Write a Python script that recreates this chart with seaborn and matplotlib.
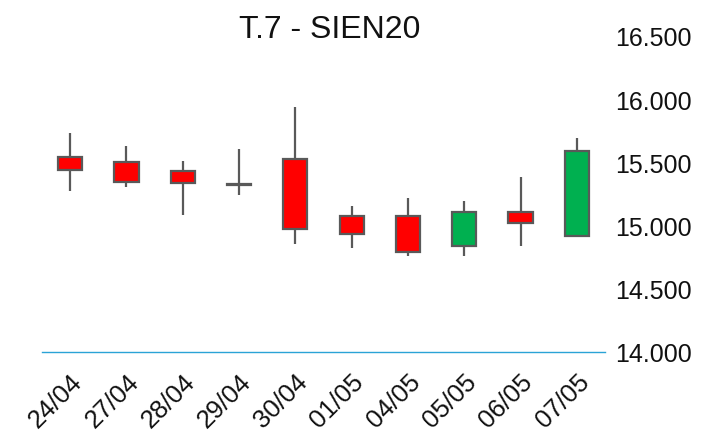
import matplotlib
matplotlib.use("Agg")
import matplotlib.pyplot as plt
import seaborn as sns
import pandas as pd
import numpy as np
from matplotlib.ticker import FuncFormatter

dates = ["24/04", "27/04", "28/04", "29/04", "30/04", "01/05", "04/05", "05/05", "06/05", "07/05"]
opens = [15540, 15500, 15430, 15330, 15527, 15074, 15074, 14836, 15110, 14920]
highs = [15733, 15632, 15509, 15606, 15936, 15153, 15218, 15192, 15382, 15691]
lows = [15276, 15308, 15086, 15240, 14854, 14823, 14757, 14757, 14841, 14920]
closes = [15440, 15347, 15335, 15320, 14973, 14934, 14794, 15110, 15018, 15593]
yticks = [14000, 14500, 15000, 15500, 16000, 16500]
title = "T.7 - SIEN20"

sns.set_style("white")
plt.rcParams["font.family"] = ["Liberation Sans", "DejaVu Sans"]

df = pd.DataFrame({
    "date": dates,
    "open": opens,
    "high": highs,
    "low": lows,
    "close": closes,
})
df["body_bottom"] = df[["open", "close"]].min(axis=1)
df["body_height"] = (df["close"] - df["open"]).abs()
up_color = "#00B050"
down_color = "#FF0000"
colors = [up_color if c > o else down_color for o, c in zip(df["open"], df["close"])]

fig = plt.figure(figsize=(7.01, 4.35), dpi=100)
ax = fig.add_axes([42 / 701, 1 - 353 / 435, (605 - 42) / 701, (353 - 37) / 435])

edge = "#595959"
# wicks
xpos = np.arange(len(df))
ax.vlines(xpos, df["low"], df["high"], color=edge, linewidth=1.6, zorder=1)

# bodies
sns.barplot(data=df, x="date", y="body_height", order=dates, bottom=df["body_bottom"].values,
            width=0.43, color=down_color, edgecolor=edge, linewidth=1.6, ax=ax,
            errorbar=None, zorder=2)
for patch, c in zip(ax.patches, colors):
    patch.set_facecolor(c)

ax.set_xlim(-0.5, len(df) - 0.5)
ax.set_ylim(14000, 16500)
ax.set_xlabel("")
ax.set_ylabel("")

ax.yaxis.tick_right()
ax.set_yticks(yticks)
ax.yaxis.set_major_formatter(FuncFormatter(lambda v, p: f"{int(v):,}".replace(",", ".")))
ax.tick_params(axis="y", length=0, pad=7, labelsize=18, labelcolor="#111111")
ax.tick_params(axis="x", length=0, pad=12, labelsize=18.5, labelcolor="#111111")
for lab in ax.get_xticklabels():
    lab.set_rotation(45)
    lab.set_ha("right")
    lab.set_rotation_mode("anchor")

for s in ["top", "left", "right"]:
    ax.spines[s].set_visible(False)
ax.spines["bottom"].set_color("#2AA3D6")
ax.spines["bottom"].set_linewidth(1.0)

fig.text(330 / 701, 1 - 38 / 435, title, ha="center", va="baseline", fontsize=23, color="#111111")

fig.savefig("out.png", dpi=100, facecolor="white")
